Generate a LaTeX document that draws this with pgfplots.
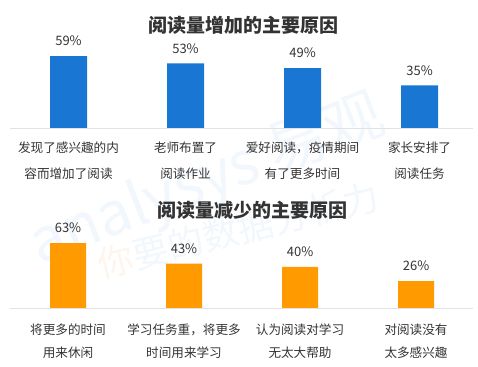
\documentclass[border=0pt]{standalone}
\usepackage{pgfplots}
\pgfplotsset{compat=1.18}
\usepackage{fontspec}
\setmainfont{Noto Sans CJK SC}
\definecolor{barblue}{HTML}{1976D2}
\definecolor{barorange}{HTML}{FF9B00}
\definecolor{txt}{HTML}{333333}
\definecolor{axgray}{HTML}{E0E3E6}
\definecolor{wmblue}{HTML}{F1F7FC}
\definecolor{wmorange}{HTML}{FEF5EC}
\begin{document}
\begin{tikzpicture}
\path[use as bounding box] (0pt,0pt) rectangle (478pt,366pt);
% watermark
\node[rotate=21, color=wmblue, font=\fontsize{60}{60}\selectfont] at (208pt,184pt) {analysys 易观};
\node[rotate=14, font=\fontsize{36}{36}\selectfont] at (238pt,136pt) {\textcolor{wmorange}{你}\textcolor{wmblue}{要的数据分析力}};
% titles
\node[font=\fontsize{19}{19}\selectfont\bfseries, text=txt] at (243pt,341pt) {阅读量增加的主要原因};
\node[font=\fontsize{19}{19}\selectfont\bfseries, text=txt] at (252pt,155.3pt) {阅读量减少的主要原因};
\pgfplotsset{
  mybars/.style={
    scale only axis, anchor=south west,
    width=463pt, xmin=-0.5, ymin=0, ymax=70,
    ybar, bar shift=0pt,
    axis y line=none, axis x line*=bottom,
    x axis line style={axgray, line width=0.8pt, -},
    xtick=data, xtick style={draw=none}, ytick=\empty,
    enlarge y limits=false, clip=false,
    /pgf/number format/assume math mode=true,
    nodes near coords={\pgfmathprintnumber{\pgfplotspointmeta}\%},
    every node near coord/.append style={anchor=center, yshift=15pt, text=txt, font=\fontsize{13}{13}\selectfont},
  }
}
\begin{axis}[mybars, at={(10pt,238pt)}, height=85.4pt, xmax=3.457, bar width=37pt,
  xticklabels={{发现了感兴趣的内\\容而增加了阅读},{老师布置了\\阅读作业},{爱好阅读，疫情期间\\有了更多时间},{家长安排了\\阅读任务}},
  xticklabel style={align=center, anchor=north, yshift=-6pt, text=txt, font=\fontsize{12.6}{26}\selectfont}]
\addplot[fill=barblue, draw=none] coordinates {(0,59) (1,53) (2,49) (3,35)};
\end{axis}
\begin{axis}[mybars, at={(10pt,58pt)}, height=72.1pt, xmax=3.491, bar width=36pt,
  xticklabels={{将更多的时间\\用来休闲},{学习任务重，将更多\\时间用来学习},{认为阅读对学习\\无太大帮助},{对阅读没有\\太多感兴趣}},
  xticklabel style={align=center, anchor=north, yshift=-8pt, text=txt, font=\fontsize{12.6}{22.7}\selectfont}]
\addplot[fill=barorange, draw=none] coordinates {(0,63) (1,43) (2,40) (3,26)};
\end{axis}
\end{tikzpicture}
\end{document}
